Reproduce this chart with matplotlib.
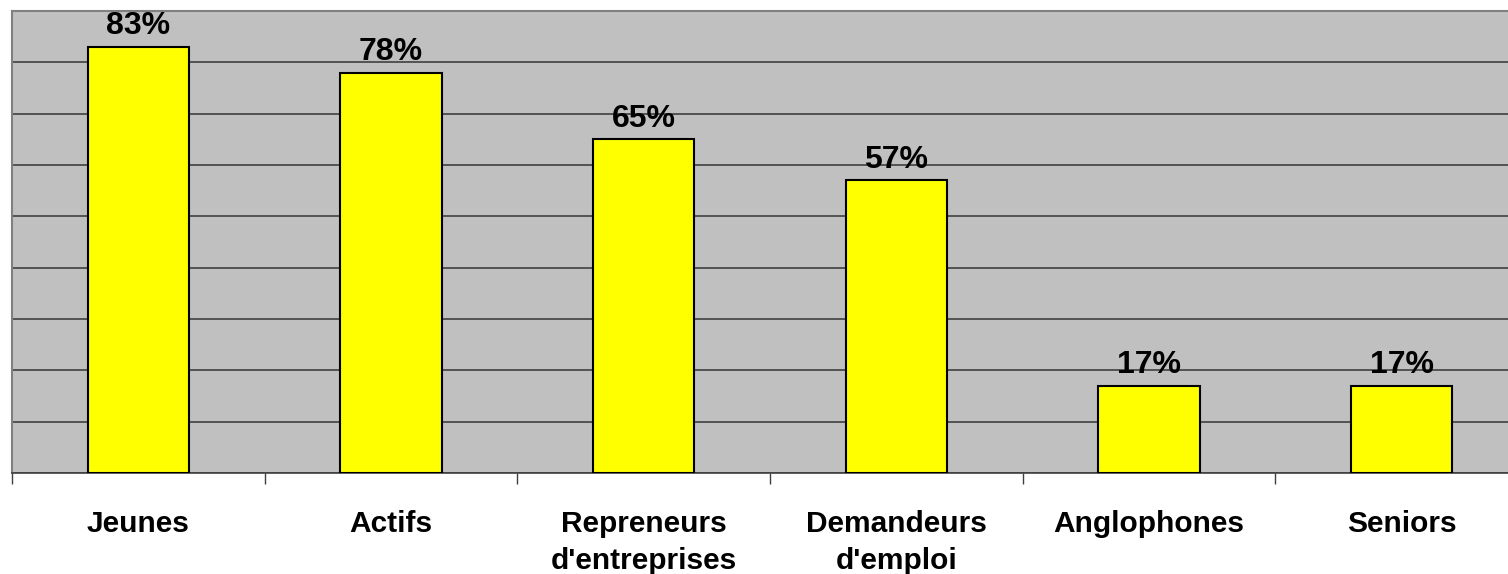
import numpy as np
import matplotlib.pyplot as plt

plt.rcParams['font.family'] = ['Liberation Sans', 'DejaVu Sans']

# Données
categories = ["Jeunes", "Actifs", "Repreneurs\nd'entreprises", "Demandeurs\nd'emploi",
              "Anglophones", "Seniors"]
valeurs = [83, 78, 65, 57, 17, 17]

W, H = 1508, 574
fig = plt.figure(figsize=(W / 100, H / 100), dpi=100)
# la zone de tracé dépasse à droite, comme dans l'original
ax = fig.add_axes([12 / W, (H - 473) / H, 1516 / W, 462 / H])
ax.set_facecolor('#C0C0C0')

x = np.arange(len(categories))
ax.bar(x, valeurs, width=0.4, color='#FFFF00', edgecolor='black',
       linewidth=1.5, zorder=3)

for xi, v in zip(x, valeurs):
    ax.text(xi, v + 1.1, f"{v}%", ha='center', va='bottom', fontsize=23,
            fontweight='bold')

ax.set_xlim(-0.5, len(categories) - 0.5)
ax.set_ylim(0, 90)
ax.set_yticks(np.arange(0, 91, 10))
ax.yaxis.grid(True, color='#404040', linewidth=1.2, zorder=0)
ax.tick_params(axis='y', left=False, labelleft=False)

ax.set_xticks(x)
ax.set_xticklabels(categories, fontsize=21.5, fontweight='bold', linespacing=1.4)
ax.set_xticks(np.arange(-0.5, len(categories), 1), minor=True)
ax.tick_params(axis='x', which='major', length=0, pad=27)
ax.tick_params(axis='x', which='minor', length=8, width=1, color='#404040')

for s in ['top', 'left']:
    ax.spines[s].set_color('#808080')
    ax.spines[s].set_linewidth(1.5)
ax.spines['right'].set_visible(False)
ax.spines['bottom'].set_color('#404040')
ax.spines['bottom'].set_linewidth(1.2)

fig.savefig('out.png', dpi=100)
